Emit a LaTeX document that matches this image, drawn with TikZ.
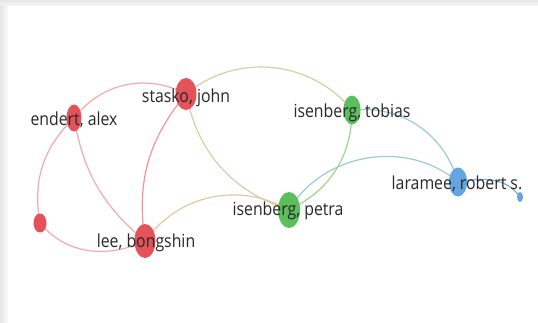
\documentclass[tikz,border=0pt]{standalone}
\usepackage{fontspec}
\newfontfamily\labelfont{Open Sans}[FakeStretch=0.88]
\usetikzlibrary{shapes.geometric,backgrounds}
\definecolor{nodered}{RGB}{228,82,90}
\definecolor{nodegreen}{RGB}{92,190,92}
\definecolor{nodeblue}{RGB}{98,165,225}
\definecolor{linkred}{RGB}{245,170,170}
\definecolor{linkredstrong}{RGB}{241,148,148}
\definecolor{linkolive}{RGB}{218,205,165}
\definecolor{linkgreen}{RGB}{155,215,135}
\definecolor{linkteal}{RGB}{155,205,205}
\definecolor{linkblue}{RGB}{120,172,222}
\definecolor{labelgray}{RGB}{40,40,40}
\definecolor{framegray}{RGB}{230,230,230}
\begin{document}
\begin{tikzpicture}[x=1pt, y=1pt,
  author/.style={ellipse, inner sep=0pt, draw=none},
  red author/.style={author, fill=nodered},
  green author/.style={author, fill=nodegreen},
  blue author/.style={author, fill=nodeblue},
  author name/.style={anchor=base, inner sep=0pt, text=labelgray,
    font=\labelfont\fontsize{18}{20}\selectfont},
  link/.style={line width=1.2pt}]
\useasboundingbox (0,0) rectangle (538,322);
% authors
\node[red author, minimum width=21pt, minimum height=32pt] (stasko) at (186,228) {};
\node[red author, minimum width=21pt, minimum height=34pt] (lee) at (145,81) {};
\node[red author, minimum width=15pt, minimum height=27pt] (endert) at (74,204) {};
\node[red author, minimum width=13pt, minimum height=19pt] (red4) at (40,99) {};
\node[green author, minimum width=22pt, minimum height=36pt] (petra) at (289,112) {};
\node[green author, minimum width=17pt, minimum height=29pt] (tobias) at (352,212) {};
\node[blue author, minimum width=18pt, minimum height=29pt] (laramee) at (458,140) {};
\node[blue author, minimum width=6pt, minimum height=10pt] (blue2) at (520,125) {};
% names
\node[author name] (stasko label) at (186,219) {stasko, john};
\node[author name] (lee label) at (146,75) {lee, bongshin};
\node[author name] (endert label) at (74,197) {endert, alex};
\node[author name] (petra label) at (288,107) {isenberg, petra};
\node[author name] (tobias label) at (352,205) {isenberg, tobias};
\node[author name] (laramee label) at (457,133) {laramee, robert s.};
\begin{scope}[on background layer]
  \fill[white] (0,0) rectangle (538,322);
  \shade[top color=framegray, bottom color=framegray!30] (0,316) rectangle (538,322);
  \shade[left color=framegray, right color=framegray!20] (0,0) rectangle (8,316);
  % links
  \draw[link, linkred] (endert.center) to[bend left=40] (stasko.center);
  \draw[link, linkred] (endert.center) to[bend right=28] (red4.center);
  \draw[link, linkred] (red4.center) to[out=-50, in=-155] (lee.center);
  \draw[link, linkred] (endert.center) to[bend right=20] (lee.center);
  \draw[link, linkredstrong] (stasko.center) to[bend right=24] (lee.center);
  \draw[link, linkolive] (stasko.center) to[bend right=30] (petra.center);
  \draw[link, linkolive] (stasko.center) to[bend left=45] (tobias.center);
  \draw[link, linkolive] (lee.center) to[bend left=42] (petra.center);
  \draw[link, linkgreen] (tobias.center) to[bend left=32] (petra.center);
  \draw[link, linkteal] (petra.center) to[bend left=50] (laramee.center);
  \draw[link, linkteal] (tobias.center) to[bend left=40] (laramee.center);
  \draw[link, linkblue] (laramee.center) to[out=10, in=125] (blue2.center);
\end{scope}
\end{tikzpicture}
\end{document}
